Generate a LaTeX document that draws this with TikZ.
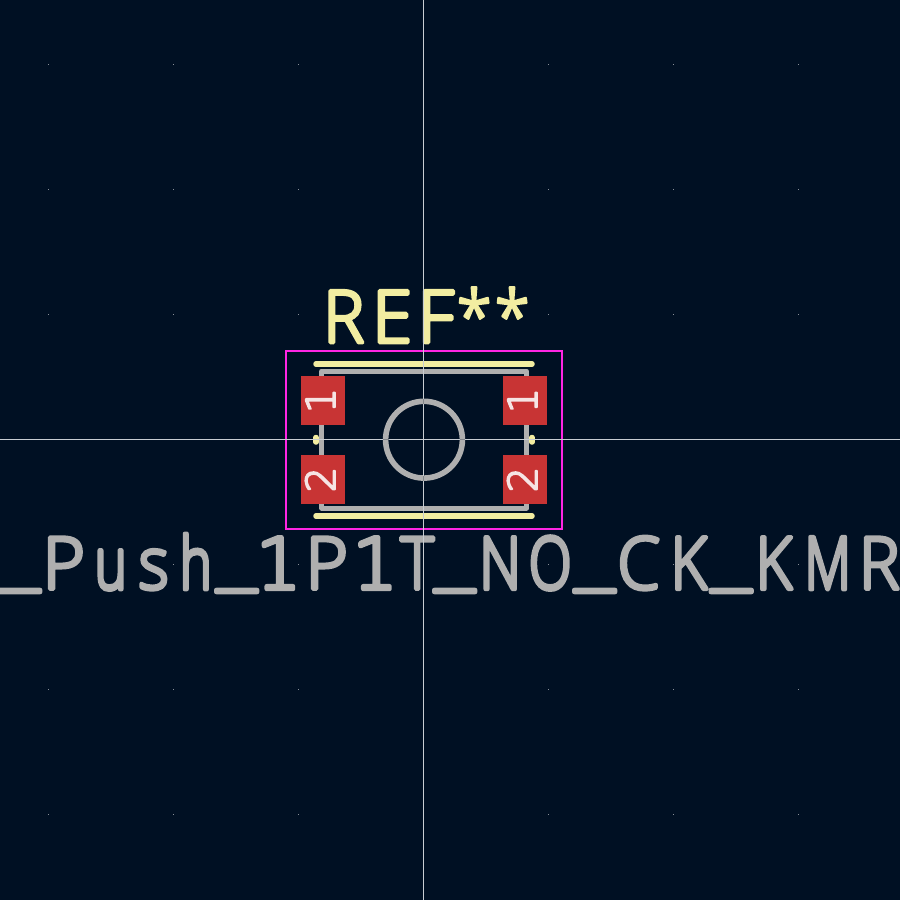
\documentclass[tikz,border=0pt]{standalone}
\usepackage{fontspec}
\setmainfont{Open Sans Light}
\newfontfamily\kifont{Open Sans Light}
\newfontfamily\kidig{DejaVu Sans ExtraLight}
\definecolor{bgc}{HTML}{001023}
\definecolor{silk}{HTML}{F2EDA1}
\definecolor{fab}{HTML}{AFAFAF}
\definecolor{crt}{HTML}{FF26E2}
\definecolor{padc}{HTML}{C83434}
\definecolor{axisc}{HTML}{C8CDD2}
\definecolor{axisdark}{HTML}{808488}
\definecolor{griddot}{HTML}{8A9099}
\definecolor{padtxt}{HTML}{F6E4E4}
% one glyph centred on #1, stretched by #2, outline width #3
\newcommand{\kgl}[4]{\rlap{\hskip #1pt\makebox[0pt][c]{\scalebox{#2}[1]{\special{pdf:code #3 w}#4}}}}
\newcommand{\kus}[1]{\rlap{\hskip #1pt\makebox[0pt][c]{\raisebox{6pt}{\scalebox{1.33}[1]{\_}}}}}
\newcommand{\kone}[1]{\rlap{\hskip #1pt\makebox[0pt][c]{\fontsize{71}{71}\kidig\selectfont\special{pdf:code 4.4 w}1\special{pdf:code 3.8 w}}}}
\newcommand{\strokeon}[2]{\special{pdf:code q 2 Tr #1 w 1 j 1 J #2 RG}}
\newcommand{\strokeoff}{\special{pdf:code 0 Tr Q}}
\tikzset{
  axisline/.style={draw=axisc,line width=0.8pt},
  silkline/.style={draw=silk,line width=5.5pt,line cap=round},
  fabline/.style={draw=fab,line width=5pt,line cap=round,line join=round},
  crtline/.style={draw=crt,line width=2pt},
  padbox/.style={fill=padc,draw=none,minimum width=44pt,minimum height=49pt,inner sep=0pt,outer sep=0pt,rectangle},
  padnum/.style={text=padtxt,font=\kidig\fontsize{40}{40}\selectfont,rotate=90,inner sep=0pt,anchor=base},
  bigtext/.style={anchor=base west,inner sep=0pt,font=\kifont\fontsize{72.5}{72.5}\selectfont},
}
\begin{document}
\begin{tikzpicture}[x=1pt,y=-1pt]
\useasboundingbox (0,0) rectangle (900,900);
\fill[bgc] (0,0) rectangle (900,900);
\foreach \gx in {48,173,298,423,548,673,798}
  \foreach \gy in {64,189,314,439,564,689,814}
    \fill[griddot] (\gx-0.5,\gy-0.5) rectangle (\gx+0.5,\gy+0.5);
\draw[fabline] (321.7,371) -- (526.5,371) -- (526.5,508) -- (321.7,508) -- cycle;
\draw[fab,line width=5.6pt] (424,439.7) circle (38.4);
\draw[silkline] (316,364) -- (532,364);
\draw[silkline] (316,516) -- (532,516);
\draw[silkline] (316,437.5) -- (316,442);
\draw[silkline] (532,437.5) -- (532,442);
\draw[crtline] (286,351) rectangle (562,528.5);
\node[padbox] (p1l) at (323,400.5) {};
\node[padbox] (p2l) at (323,479.5) {};
\node[padbox] (p1r) at (525,400.5) {};
\node[padbox] (p2r) at (525,479.5) {};
\node[padnum] (n1l) at (335,400.5) {\strokeon{1.8}{0.965 0.894 0.894}1\strokeoff};
\node[padnum] (n2l) at (335,479.5) {\strokeon{1.8}{0.965 0.894 0.894}2\strokeoff};
\node[padnum] (n1r) at (537,400.5) {\strokeon{1.8}{0.965 0.894 0.894}1\strokeoff};
\node[padnum] (n2r) at (537,479.5) {\strokeon{1.8}{0.965 0.894 0.894}2\strokeoff};
\node[bigtext,text=silk] (ref) at (0,342.5)
 {\strokeon{3.8}{0.949 0.929 0.631}\kgl{343}{.95}{3.8}{R}\kgl{391.5}{1}{3.8}{E}\kgl{435}{1}{3.8}{F}\kgl{473.5}{.88}{2.6}{*}\kgl{511.5}{.88}{2.6}{*}\strokeoff};
\node[bigtext,text=fab] (val) at (0,589)
 {\strokeon{3.8}{0.686 0.686 0.686}\kus{19}\kgl{63}{1}{3.8}{P}\kgl{110}{.75}{4.6}{u}\kgl{153}{.9}{3.8}{s}\kgl{195}{.75}{4.6}{h}\kus{236}\kone{278}\kgl{326}{1}{3.8}{P}\kone{374.5}\kgl{416.5}{.88}{3.8}{T}\kus{454}\kgl{499.5}{.8}{4.3}{N}\kgl{549.5}{.77}{4.5}{O}\kus{594}\kgl{638}{.95}{3.8}{C}\kgl{688}{.87}{4}{K}\kus{730.5}\kgl{773}{.87}{4}{K}\kgl{827}{.74}{4.6}{M}\kgl{878.5}{.95}{3.8}{R}\strokeoff};
\draw[axisline] (423,0) -- (423,900);
\draw[axisline] (0,439) -- (900,439);
\draw[axisdark,line width=0.8pt] (423,398.7) -- (423,404) (423,475.5) -- (423,480.8);
\draw[axisdark,line width=0.8pt] (383,439) -- (388.5,439) (459.5,439) -- (465,439);
\end{tikzpicture}
\end{document}
